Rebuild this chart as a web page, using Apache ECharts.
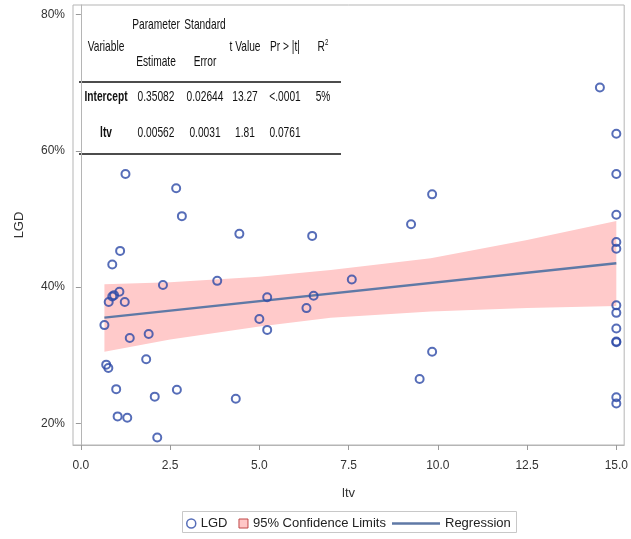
<!DOCTYPE html>
<html>
<head>
<meta charset="utf-8">
<script src="https://cdn.jsdelivr.net/npm/echarts@6/dist/echarts.min.js"></script>
<style>
html,body{margin:0;padding:0;background:#fff;}
#chart{width:631px;height:539px;}
</style>
</head>
<body>
<div id="chart"></div>
<script>
// ---- data ----
const ltv = [1.25,1.10,0.88,2.30,1.08,0.88,0.93,0.78,1.23,0.66,1.37,1.90,1.83,0.71,0.77,0.99,2.07,1.03,1.30,2.14,
             2.67,2.83,4.44,6.48,3.82,7.59,5.22,6.52,6.32,5.00,5.22,2.69,4.34,
             9.84,9.25,9.84,9.49,14.54,
             15,15,15,15,15,15,15,15,15,15,15,15];
const lgd = [56.6,45.3,43.3,40.3,39.3,38.6,38.8,37.8,37.8,34.4,32.5,33.1,29.4,28.6,28.1,25.0,23.9,21.0,20.8,17.9,
             54.5,50.4,47.8,47.5,40.9,41.1,38.5,38.7,36.9,35.3,33.7,24.9,23.6,
             53.6,49.2,30.5,26.5,69.3,
             62.5,56.6,50.6,46.6,45.6,37.3,36.2,33.9,32.0,31.9,23.8,22.9];
const bandX     = [0.66, 2.5, 5.0, 7.0, 9.8, 12.5, 15.0];
const bandUpper = [40.4, 40.7, 41.5, 42.5, 44.2, 46.9, 49.7];
const bandLower = [30.5, 32.3, 34.2, 35.5, 36.4, 36.9, 37.2];
const regX = [0.66, 15.0];
const regY = [35.5, 43.5];
const xTicks = [0, 2.5, 5, 7.5, 10, 12.5, 15];
const yTicks = [20, 40, 60, 80];
const tableHead1 = ['Parameter', 'Standard'];
const tableHead2 = ['Variable', 'Estimate', 'Error', 't Value', 'Pr > |t|', 'R'];
const tableRows = [
  ['Intercept', '0.35082', '0.02644', '13.27', '<.0001', '5%'],
  ['ltv', '0.00562', '0.0031', '1.81', '0.0761', '']
];

// ---- chart ----
const chart = echarts.init(document.getElementById('chart'));
const TF = '"Liberation Sans",Arial,sans-serif';
const SX = 0.68;
const colX = [106, 156, 205, 245, 285, 323];
const graphics = [];
function txt(x, y, t, bold, extra) {
  const st = {text:t, font:(bold?'bold ':'')+'15px '+TF, fill:'#111', align:'center', verticalAlign:'middle'};
  if (extra) Object.assign(st, extra);
  graphics.push({type:'text', x:x, y:y, scaleX:SX, style:st});
}
txt(colX[1], 25, tableHead1[0]);
txt(colX[2], 25, tableHead1[1]);
const head2Y = [47, 62, 62, 47, 47, 47];
tableHead2.forEach((t, i) => {
  if (i === 5) {
    txt(colX[i], head2Y[i], 'R{s|2}', false, {rich:{s:{fontSize:9, fontFamily:'Liberation Sans', verticalAlign:'top', padding:[0,0,8,0], fill:'#111'}}});
  } else {
    txt(colX[i], head2Y[i], t);
  }
});
graphics.push({type:'line', shape:{x1:79, y1:82, x2:341, y2:82}, style:{stroke:'#111', lineWidth:1.5}});
tableRows.forEach((row, r) => {
  const y = r === 0 ? 97 : 133;
  row.forEach((t, i) => { if (t) txt(colX[i], y, t, i === 0); });
});
graphics.push({type:'line', shape:{x1:79, y1:154, x2:341, y2:154}, style:{stroke:'#111', lineWidth:1.5}});
// legend frame
graphics.push({type:'rect', shape:{x:182.5, y:511.5, width:334, height:21}, style:{fill:'none', stroke:'#c8c8c8', lineWidth:1}, z:-1});

const bandData = bandX.map((x, i) => [x, bandLower[i], bandUpper[i]]);

const option = {
  animation:false,
  backgroundColor:'#fff',
  grid:{left:73, right:6, top:5, bottom:94, show:true, borderColor:'#b5b5b5', borderWidth:1},
  xAxis:{
    type:'value', min:-0.22, max:15.22,
    name:'ltv', nameLocation:'middle', nameGap:42,
    nameTextStyle:{fontFamily:'Liberation Sans', fontSize:13, color:'#333'},
    axisLine:{show:true, lineStyle:{color:'#b5b5b5'}},
    axisTick:{show:true, customValues:xTicks, length:5, lineStyle:{color:'#999'}},
    axisLabel:{customValues:xTicks, margin:15, fontFamily:'Liberation Sans', fontSize:12, color:'#333',
      formatter:v => v.toFixed(1)},
    splitLine:{show:false}
  },
  yAxis:{
    type:'value', min:16.8, max:81.4,
    name:'LGD', nameLocation:'middle', nameGap:47, nameRotate:90,
    nameTextStyle:{fontFamily:'Liberation Sans', fontSize:13, color:'#333'},
    axisLine:{show:true, lineStyle:{color:'#b5b5b5'}},
    axisTick:{show:true, customValues:yTicks, length:5, lineStyle:{color:'#999'}},
    axisLabel:{customValues:yTicks, margin:8, fontFamily:'Liberation Sans', fontSize:12, color:'#333',
      formatter:v => v + '%'},
    splitLine:{show:false}
  },
  legend:[
    {left:186, top:517, padding:0, itemWidth:9, itemHeight:9, itemGap:11,
     textStyle:{fontFamily:'Liberation Sans', fontSize:13, color:'#222'},
     data:[
       {name:'LGD', icon:'circle', itemStyle:{color:'rgba(255,255,255,0)', borderColor:'#2c48a6', borderWidth:1.5}},
       {name:'95% Confidence Limits', icon:'rect', itemStyle:{color:'#ffc6c6', borderColor:'#c04848', borderWidth:1}}
     ]},
    {left:392, top:517, padding:0, itemWidth:48, itemHeight:2.5, itemGap:10,
     textStyle:{fontFamily:'Liberation Sans', fontSize:13, color:'#222'},
     data:[{name:'Regression', icon:'rect', itemStyle:{color:'#5f79a6'}}]}
  ],
  graphic:graphics,
  series:[
    {name:'95% Confidence Limits', type:'custom', z:1, silent:true,
     itemStyle:{color:'#ffcaca'},
     encode:{x:0, y:[1,2]},
     data:bandData,
     renderItem:function(params, api){
       if (params.dataIndex !== 0) return null;
       const pts = [];
       for (let i = 0; i < bandData.length; i++) pts.push(api.coord([bandData[i][0], bandData[i][2]]));
       for (let i = bandData.length - 1; i >= 0; i--) pts.push(api.coord([bandData[i][0], bandData[i][1]]));
       return {type:'polygon', shape:{points:pts}, style:{fill:'#ffcaca'}};
     }},
    {name:'Regression', type:'line', symbol:'none', z:2,
     itemStyle:{color:'#5f79a6'},
     lineStyle:{color:'#5f79a6', width:2.5}, data:regX.map((x,i)=>[x, regY[i]])},
    {name:'LGD', type:'scatter', symbol:'circle', symbolSize:8, z:3,
     itemStyle:{color:'rgba(255,255,255,0)', borderColor:'#2c48a6', borderWidth:2},
     data:ltv.map((x,i)=>[x, lgd[i]])}
  ]
};
chart.setOption(option);
</script>
</body>
</html>
